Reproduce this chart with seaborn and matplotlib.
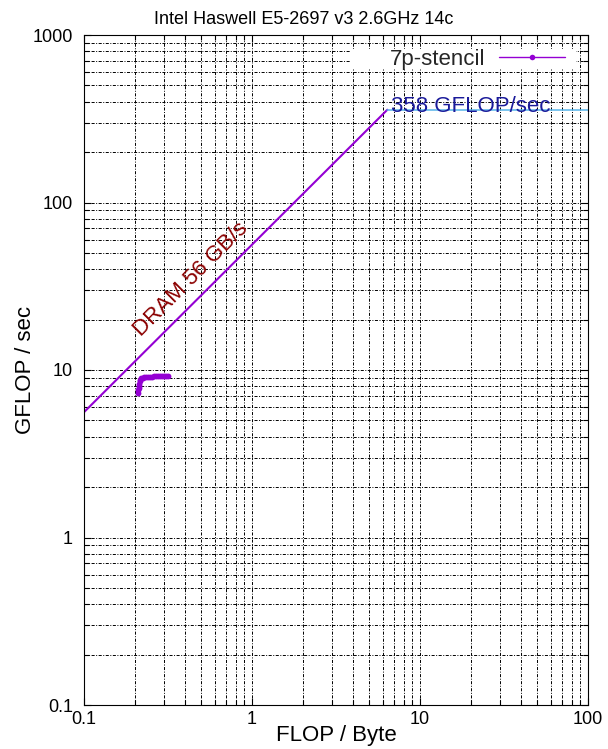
import numpy as np
import pandas as pd
import matplotlib
matplotlib.use("Agg")
import matplotlib.pyplot as plt
import seaborn as sns
from matplotlib.ticker import LogLocator, FuncFormatter, NullFormatter
from matplotlib.patches import Rectangle

# ---------------- data ----------------
title = "Intel Haswell E5-2697 v3 2.6GHz 14c"
series_name = "7p-stencil"
dram_bw = 56.0          # GB/s
peak_gflops = 358.0     # GFLOP/sec
x_limits = [0.1, 100]
y_limits = [0.1, 1000]
x_ticks = [0.1, 1, 10, 100]
y_ticks = [0.1, 1, 10, 100, 1000]

stencil_ai = [0.211, 0.211, 0.212, 0.212, 0.213, 0.214, 0.216, 0.219, 0.223,
              0.228, 0.234, 0.240, 0.247, 0.254, 0.261, 0.268, 0.276, 0.284,
              0.292, 0.300, 0.308, 0.315]
stencil_gflops = [7.3, 7.55, 7.8, 8.05, 8.3, 8.55, 8.75, 8.9, 9.0,
                  9.05, 9.08, 9.1, 9.12, 9.13, 9.15, 9.16, 9.18, 9.19,
                  9.2, 9.22, 9.23, 9.25]

ridge = peak_gflops / dram_bw
bw_x = [x_limits[0], ridge]
bw_y = [dram_bw * v for v in bw_x]
peak_x = [ridge, x_limits[1]]
peak_y = [peak_gflops, peak_gflops]

# ---------------- style ----------------
sns.set_theme(style="white")
plt.rcParams["font.family"] = ["Liberation Sans", "DejaVu Sans"]
plt.rcParams["lines.scale_dashes"] = False
FS = 13      # title / tick labels
FL = 16      # axis labels, legend, annotations

W, H = 608, 749
fig = plt.figure(figsize=(W / 100, H / 100), dpi=100)
L, R, T, B = 84, 588, 35, 705
ax = fig.add_axes([L / W, 1 - B / H, (R - L) / W, (B - T) / H])

purple = "#9400d3"
sky = "#56b4e9"

df = pd.DataFrame({"ai": stencil_ai, "gf": stencil_gflops})
sns.lineplot(data=df, x="ai", y="gf", ax=ax, sort=False, estimator=None,
             color=purple, linewidth=1.0, marker="o", markersize=4.2,
             markeredgewidth=0, label=series_name, zorder=3)
sns.lineplot(x=bw_x, y=bw_y, ax=ax, color=purple, linewidth=1.5,
             estimator=None, sort=False, zorder=2, legend=False)
sns.lineplot(x=peak_x, y=peak_y, ax=ax, color=sky, linewidth=1.1,
             estimator=None, sort=False, zorder=2, legend=False)

ax.set_xscale("log")
ax.set_yscale("log")
ax.set_xlim(*x_limits)
ax.set_ylim(*y_limits)

ax.xaxis.set_minor_locator(LogLocator(base=10, subs=np.arange(2, 10)))
ax.yaxis.set_minor_locator(LogLocator(base=10, subs=np.arange(2, 10)))
ax.set_xticks(x_ticks)
ax.set_yticks(y_ticks)
fmt = FuncFormatter(lambda v, p: "%g" % v)
ax.xaxis.set_major_formatter(fmt)
ax.yaxis.set_major_formatter(fmt)
ax.xaxis.set_minor_formatter(NullFormatter())
ax.yaxis.set_minor_formatter(NullFormatter())

ax.tick_params(which="both", direction="in", top=True, right=True,
               bottom=True, left=True, color="black", width=0.8)
ax.tick_params(which="major", length=5)
ax.tick_params(which="minor", length=3.5)
ax.tick_params(axis="x", which="major", pad=4, labelsize=FS, labelcolor="black")
ax.tick_params(axis="y", which="major", pad=8, labelsize=FS, labelcolor="black")

for s in ax.spines.values():
    s.set_color("black")
    s.set_linewidth(0.8)

ax.set_axisbelow(True)
ax.grid(which="both", color="black", linewidth=0.7,
        linestyle=(0, (2.2, 1.1, 0.7, 1.1)))

ax.set_xlabel("FLOP / Byte", fontsize=FL, color="black")
ax.set_ylabel("GFLOP / sec", fontsize=FL, color="black")
ax.xaxis.set_label_coords(0.5, (B - 736) / (B - T))
ax.xaxis.label.set_va("center")
ax.yaxis.set_label_coords((25 - L) / (R - L), 0.5)
ax.yaxis.label.set_va("center")

fig.text(0.5, 1 - 19 / H, title, ha="center", va="center", fontsize=FS,
         color="black")

# annotations
ax.text(6.7, peak_gflops * 0.975, "%d GFLOP/sec" % peak_gflops, color="#1a1a9a",
        fontsize=FL, ha="left", va="baseline", zorder=4)
ax.text(0.43, 34.8, "DRAM %d GB/s" % dram_bw, color="#8b0000", fontsize=FL,
        rotation=45, rotation_mode="anchor", ha="center", va="center", zorder=4)

# legend with white background box
ax.add_patch(Rectangle(((350 - L) / (R - L), (B - 69) / (B - T)),
                       226 / (R - L), 20 / (B - T), transform=ax.transAxes,
                       facecolor="white", edgecolor="none", zorder=1.5))
leg = ax.legend(loc="center right",
                bbox_to_anchor=((565 - L) / (R - L), (B - 59) / (B - T)),
                frameon=False, markerfirst=False, borderaxespad=0, borderpad=0,
                handlelength=2.97, handletextpad=0.63, fontsize=FL)
for h in leg.legend_handles:
    h.set_markersize(4)

fig.savefig("out.png", dpi=100)
